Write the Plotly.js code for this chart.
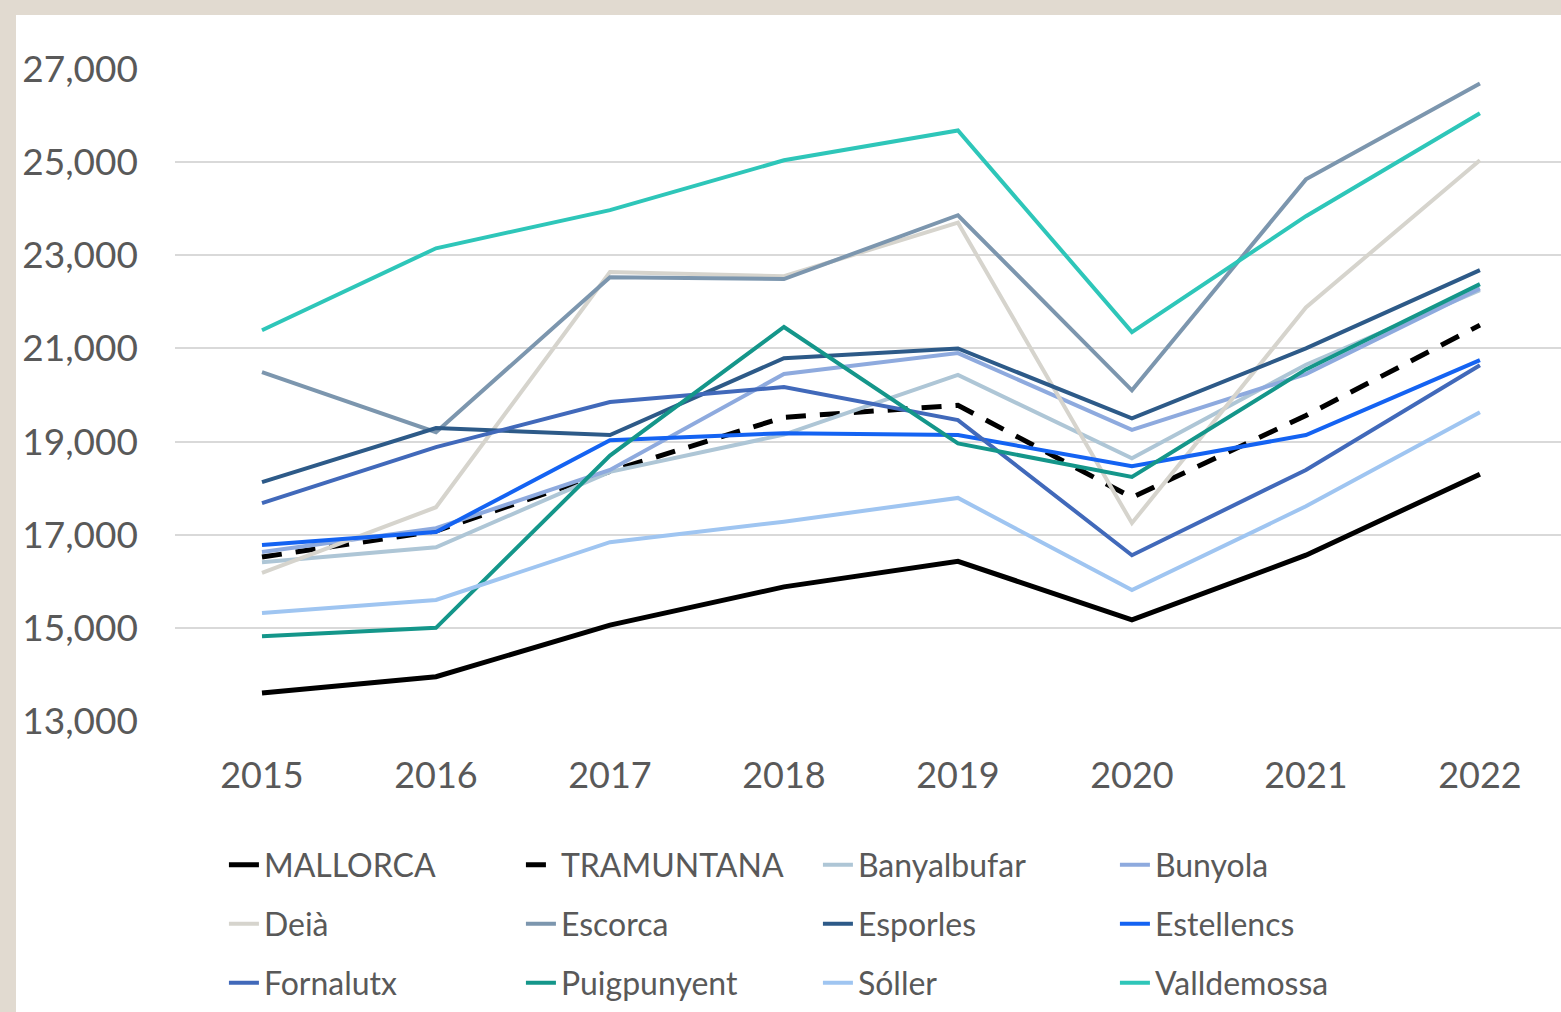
<!DOCTYPE html>
<html>
<head>
<meta charset="utf-8">
<script src="https://cdn.plot.ly/plotly-3.0.1.min.js"></script>
<style>
  html, body { margin: 0; padding: 0; background: #e1dad0; width: 1561px; height: 1012px; overflow: hidden; }
  #chart { position: absolute; left: 16px; top: 15px; width: 1545px; height: 997px; background: #ffffff; }
</style>
</head>
<body>
<div id="chart"></div>
<script>
const years = ["2015", "2016", "2017", "2018", "2019", "2020", "2021", "2022"];

const mallorca    = [13600, 13950, 15060, 15880, 16430, 15170, 16560, 18300];
const tramuntana  = [16520, 17080, 18360, 19520, 19780, 17800, 19560, 21500];
const banyalbufar = [16410, 16730, 18350, 19150, 20430, 18640, 20650, 22250];
const bunyola     = [16630, 17140, 18390, 20450, 20900, 19250, 20450, 22290];
const deia        = [16180, 17590, 22640, 22550, 23700, 17250, 21880, 25040];
const escorca     = [20490, 19200, 22530, 22490, 23860, 20100, 24630, 26690];
const esporles    = [18130, 19290, 19140, 20790, 21000, 19500, 21000, 22680];
const estellencs  = [16780, 17060, 19030, 19180, 19140, 18470, 19140, 20750];
const fornalutx   = [17680, 18880, 19850, 20170, 19460, 16560, 18390, 20640];
const puigpunyent = [14820, 15000, 18700, 21460, 18960, 18240, 20550, 22380];
const soller      = [15320, 15600, 16840, 17280, 17790, 15810, 17610, 19630];
const valldemossa = [21390, 23150, 23970, 25040, 25680, 21350, 23840, 26050];

const yTicks = [13000, 15000, 17000, 19000, 21000, 23000, 25000, 27000];

const seriesNames = ["MALLORCA", "TRAMUNTANA", "Banyalbufar", "Bunyola", "Deià", "Escorca",
                     "Esporles", "Estellencs", "Fornalutx", "Puigpunyent", "Sóller", "Valldemossa"];
const seriesData = [mallorca, tramuntana, banyalbufar, bunyola, deia, escorca,
                    esporles, estellencs, fornalutx, puigpunyent, soller, valldemossa];
const colors = ["#000000", "#000000", "#aec6d6", "#8eaade", "#d6d4cd", "#7c96ae",
                "#2d5a88", "#1463f2", "#4169ba", "#14968a", "#9fc5f1", "#2ec6b9"];
const widths = [5, 5, 4, 4, 4, 4, 4, 4, 4, 4, 4, 4];
const legendIds = ["legend", "legend", "legend", "legend",
                   "legend2", "legend2", "legend2", "legend2",
                   "legend3", "legend3", "legend3", "legend3"];

const traces = seriesNames.map((name, i) => ({
  type: "scatter",
  mode: "lines",
  name: name,
  x: years,
  y: seriesData[i],
  line: { color: colors[i], width: widths[i], dash: i === 1 ? "20px,14px" : "solid" },
  legend: legendIds[i],
  hoverinfo: "skip"
}));

const fontFam = "Lato, 'Open Sans', sans-serif";
const legendBase = {
  orientation: "h",
  x: 0.0353,
  xanchor: "left",
  yanchor: "middle",
  bgcolor: "rgba(0,0,0,0)",
  font: { family: fontFam, size: 32, color: "#595959" },
  entrywidth: 252,
  entrywidthmode: "pixels",
  itemclick: false,
  itemdoubleclick: false
};

const layout = {
  width: 1545,
  height: 997,
  paper_bgcolor: "#ffffff",
  plot_bgcolor: "#ffffff",
  margin: { l: 159, r: 0, t: 54, b: 291, autoexpand: false },
  showlegend: true,
  xaxis: {
    type: "category",
    range: [-0.5, 7.466],
    showgrid: false,
    zeroline: false,
    showline: false,
    ticks: "",
    ticklabelstandoff: 30,
    tickfont: { family: fontFam, size: 36, color: "#595959" }
  },
  yaxis: {
    range: [13000, 27000],
    tickvals: yTicks,
    tickformat: ",d",
    showgrid: true,
    gridcolor: "#d9d9d9",
    gridwidth: 2,
    zeroline: false,
    showline: false,
    ticks: "",
    ticklabelstandoff: 36,
    tickfont: { family: fontFam, size: 37, color: "#595959" }
  },
  legend: Object.assign({}, legendBase, { y: -0.2209 }),
  legend2: Object.assign({}, legendBase, { y: -0.3113 }),
  legend3: Object.assign({}, legendBase, { y: -0.4018 })
};

Plotly.newPlot("chart", traces, layout, { staticPlot: true, displayModeBar: false });
</script>
</body>
</html>
